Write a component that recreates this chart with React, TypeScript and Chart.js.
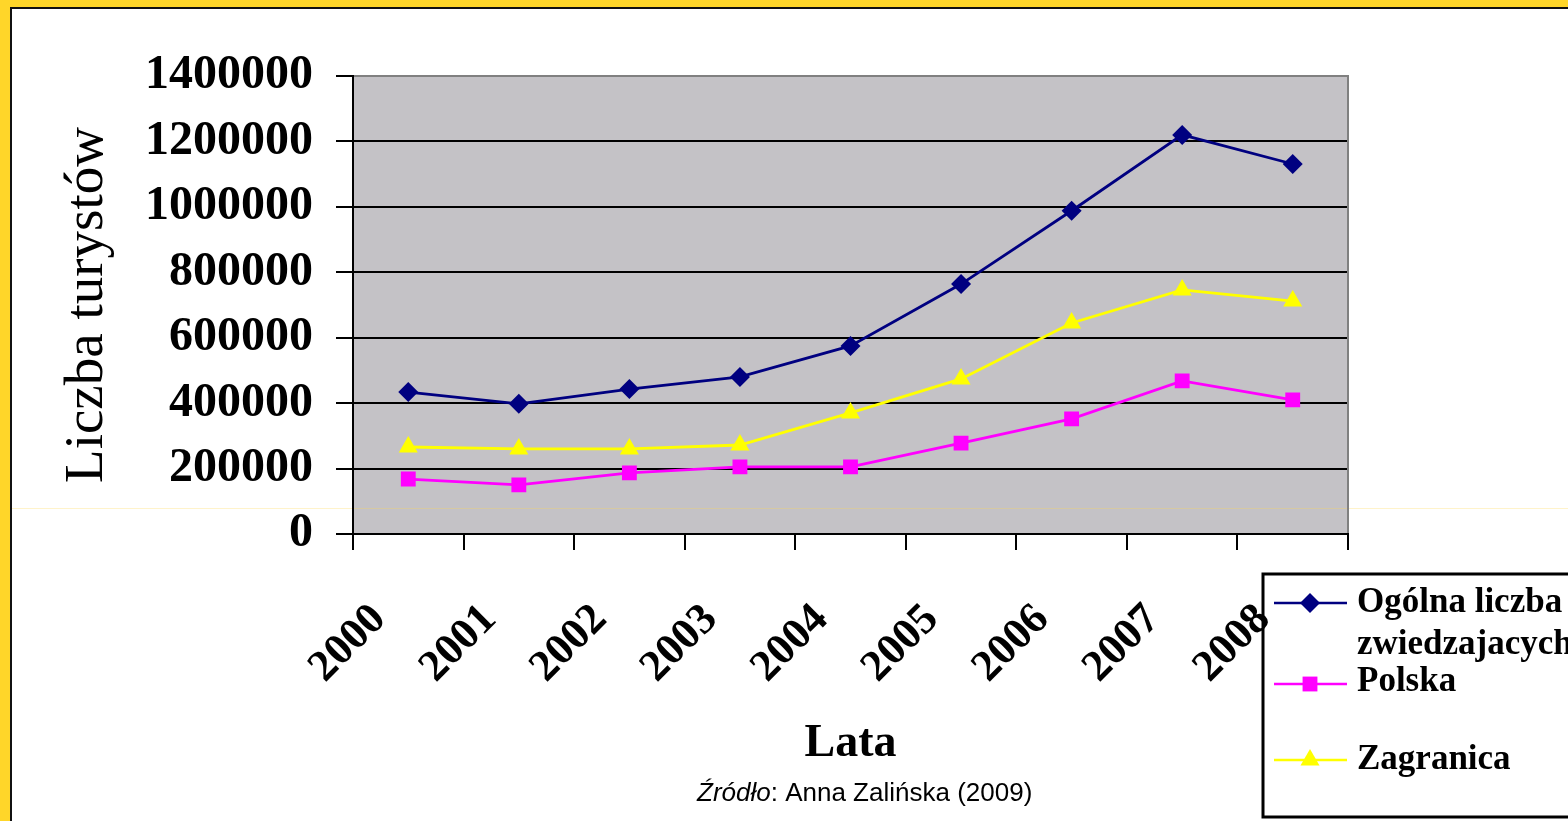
import React, { useEffect, useRef } from 'react';
import { Chart, registerables } from 'chart.js';

Chart.register(...registerables);

// ---- data ----
const YEARS = ['2000', '2001', '2002', '2003', '2004', '2005', '2006', '2007', '2008'];
const OGOLNA = [434000, 398000, 443000, 480000, 575000, 764000, 988000, 1220000, 1131000];
const POLSKA = [168000, 150000, 187000, 205000, 205000, 278000, 352000, 468000, 410000];
const ZAGRANICA = [266000, 260000, 260000, 272000, 370000, 474000, 645000, 746000, 712000];
const Y_TICKS = [0, 200000, 400000, 600000, 800000, 1000000, 1200000, 1400000];
const LEGEND_LINES = [['Ogólna liczba', 'zwiedzajacych'], ['Polska'], ['Zagranica']];
const X_TITLE = 'Lata';
const Y_TITLE = 'Liczba turystów';
const SOURCE_ITALIC = 'Źródło';
const SOURCE_REST = ': Anna Zalińska (2009)';

const SERIF = "'Liberation Serif', 'Times New Roman', serif";
const SANS = "'Liberation Sans', Arial, sans-serif";

function drawMarker(ctx: CanvasRenderingContext2D, style: string, x: number, y: number, r: number, color: string) {
  ctx.beginPath();
  if (style === 'rectRot') {
    ctx.moveTo(x - r, y);
    ctx.lineTo(x, y - r);
    ctx.lineTo(x + r, y);
    ctx.lineTo(x, y + r);
  } else if (style === 'rect') {
    const s = r * Math.SQRT1_2;
    ctx.rect(x - s, y - s, 2 * s, 2 * s);
  } else {
    const a = (2 * Math.PI) / 3;
    ctx.moveTo(x, y - r);
    ctx.lineTo(x + Math.sin(a) * r, y - Math.cos(a) * r);
    ctx.lineTo(x - Math.sin(a) * r, y - Math.cos(a) * r);
  }
  ctx.closePath();
  ctx.fillStyle = color;
  ctx.fill();
}

const framePlugin = {
  id: 'frame',
  beforeDraw(chart: any) {
    const { ctx, width, height, chartArea } = chart;
    ctx.save();
    ctx.fillStyle = '#ffffff';
    ctx.fillRect(0, 0, width, height);
    ctx.fillStyle = '#FFD629';
    ctx.fillRect(0, 0, width, 7);
    ctx.fillRect(0, 0, 10, height);
    ctx.fillStyle = '#111111';
    ctx.fillRect(10, 7, width - 10, 2);
    ctx.fillRect(10, 7, 2, height - 7);
    ctx.fillStyle = '#C4C2C6';
    ctx.fillRect(chartArea.left, chartArea.top, chartArea.right - chartArea.left, chartArea.bottom - chartArea.top);
    // faint scan line
    ctx.fillStyle = 'rgba(255, 214, 80, 0.3)';
    ctx.fillRect(12, 508, width - 12, 1);

    // legend box (drawn under the axis labels)
    ctx.fillStyle = '#ffffff';
    ctx.fillRect(1263, 574, 400, 243);
    ctx.strokeStyle = '#000000';
    ctx.lineWidth = 3;
    ctx.strokeRect(1263, 574, 400, 243);
    const rows = [
      { y: 603, textYs: [603, 645] },
      { y: 684, textYs: [682] },
      { y: 760, textYs: [760] },
    ];
    chart.data.datasets.forEach((ds: any, i: number) => {
      const row = rows[i];
      ctx.strokeStyle = ds.borderColor;
      ctx.lineWidth = 2.5;
      ctx.beginPath();
      ctx.moveTo(1274, row.y);
      ctx.lineTo(1347, row.y);
      ctx.stroke();
      drawMarker(ctx, ds.pointStyle, 1310, row.y, ds.pointRadius, ds.borderColor);
      ctx.fillStyle = '#000000';
      ctx.font = `bold 35px ${SERIF}`;
      ctx.textAlign = 'left';
      ctx.textBaseline = 'middle';
      LEGEND_LINES[i].forEach((line, j) => {
        ctx.fillText(line, 1357, row.textYs[j]);
      });
    });

    // source
    ctx.fillStyle = '#000000';
    ctx.textBaseline = 'alphabetic';
    ctx.textAlign = 'left';
    ctx.font = `italic 26px ${SANS}`;
    const w1 = ctx.measureText(SOURCE_ITALIC).width;
    ctx.fillText(SOURCE_ITALIC, 697, 801);
    ctx.font = `26px ${SANS}`;
    ctx.fillText(SOURCE_REST, 697 + w1, 801);
    ctx.restore();
  },
  afterDraw(chart: any) {
    const { ctx, chartArea } = chart;
    ctx.save();
    // plot right border
    ctx.fillStyle = '#808080';
    ctx.fillRect(chartArea.right - 1, chartArea.top - 1, 2, chartArea.bottom - chartArea.top);
    ctx.restore();
  },
};

export default function App() {
  const ref = useRef<HTMLCanvasElement | null>(null);

  useEffect(() => {
    document.body.style.margin = '0';
    document.body.style.overflow = 'hidden';
    const canvas = ref.current;
    if (!canvas) return;
    const chart = new Chart(canvas, {
      type: 'line',
      data: {
        labels: YEARS,
        datasets: [
          {
            label: LEGEND_LINES[0].join(' '),
            data: OGOLNA,
            borderColor: '#000080',
            backgroundColor: '#000080',
            borderWidth: 2.8,
            pointStyle: 'rectRot',
            pointRadius: 10,
            pointBorderWidth: 0,
            tension: 0,
          },
          {
            label: LEGEND_LINES[1].join(' '),
            data: POLSKA,
            borderColor: '#FF00FF',
            backgroundColor: '#FF00FF',
            borderWidth: 2.8,
            pointStyle: 'rect',
            pointRadius: 10.5,
            pointBorderWidth: 0,
            tension: 0,
          },
          {
            label: LEGEND_LINES[2].join(' '),
            data: ZAGRANICA,
            borderColor: '#FFFF00',
            backgroundColor: '#FFFF00',
            borderWidth: 2.8,
            pointStyle: 'triangle',
            pointRadius: 11,
            pointBorderWidth: 0,
            tension: 0,
          },
        ],
      },
      options: {
        responsive: false,
        animation: false,
        layout: { padding: { left: 0, top: 76, right: 220, bottom: 0 } },
        plugins: {
          legend: { display: false },
          tooltip: { enabled: false },
          title: { display: false },
        },
        scales: {
          x: {
            type: 'category',
            offset: true,
            grid: {
              offset: true,
              drawOnChartArea: false,
              drawTicks: true,
              tickLength: 16,
              color: '#000000',
              lineWidth: 2,
            },
            border: { display: true, color: '#000000', width: 2 },
            ticks: {
              autoSkip: false,
              minRotation: 45,
              maxRotation: 45,
              labelOffset: -29,
              padding: 44,
              color: '#000000',
              font: { family: SERIF, size: 44, weight: 'bold' },
            },
            title: {
              display: true,
              text: X_TITLE,
              color: '#000000',
              font: { family: SERIF, size: 46, weight: 'bold' },
              padding: { top: 0, bottom: 49 },
            },
            afterFit: (s: any) => {
              s.height = 287;
            },
          },
          y: {
            min: 0,
            max: 1400000,
            afterBuildTicks: (s: any) => {
              s.ticks = Y_TICKS.map((v) => ({ value: v }));
            },
            grid: {
              color: (c: any) => (c.tick && c.tick.value === 1400000 ? '#808080' : '#000000'),
              tickColor: '#000000',
              lineWidth: 2,
              tickLength: 17,
            },
            border: { display: true, color: '#000000', width: 2 },
            ticks: {
              padding: 23,
              color: '#000000',
              font: { family: SERIF, size: 48, weight: 'bold' },
              callback: (v: any) => String(v),
            },
            title: {
              display: true,
              text: Y_TITLE,
              color: '#000000',
              font: { family: SERIF, size: 55, weight: 'normal' },
              padding: { top: 55, bottom: 0 },
            },
            afterFit: (s: any) => {
              s.width = 353;
            },
          },
        },
      } as any,
      plugins: [framePlugin],
    });
    return () => chart.destroy();
  }, []);

  return (
    <div style={{ width: 1568, height: 821, position: 'relative' }}>
      <canvas ref={ref} width={1568} height={821} style={{ display: 'block' }} />
    </div>
  );
}
